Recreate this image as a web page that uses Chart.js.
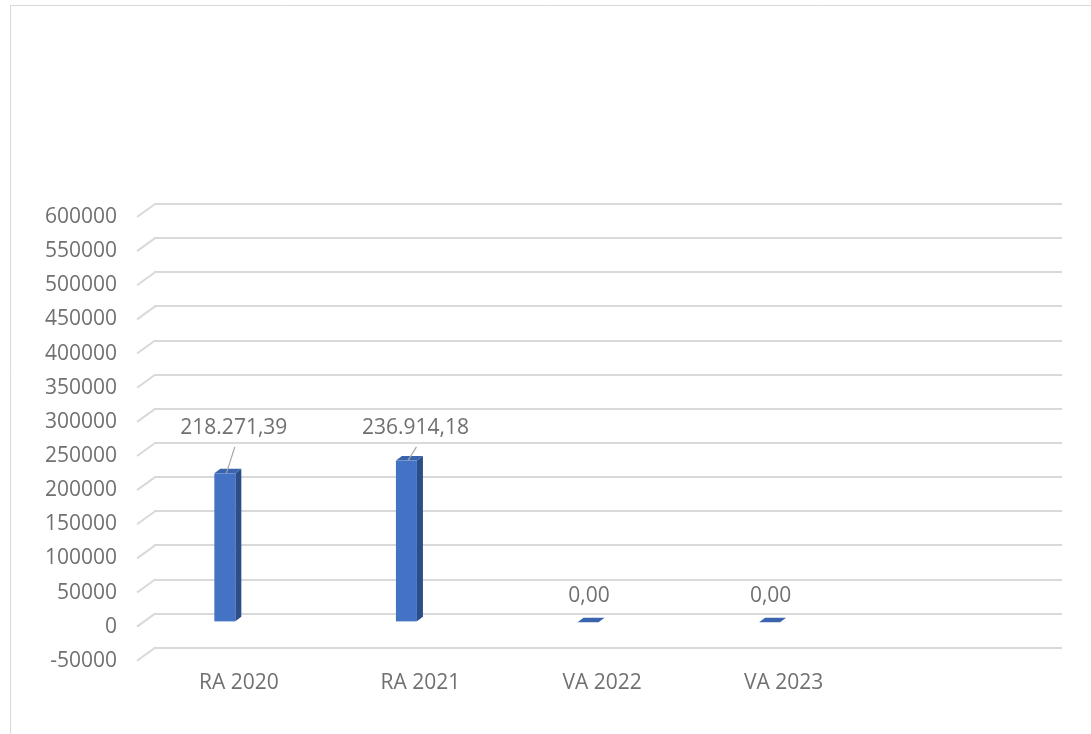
<!DOCTYPE html>
<html>
<head>
<meta charset="utf-8">
<script src="https://cdn.jsdelivr.net/npm/chart.js@4.4.1/dist/chart.umd.min.js"></script>
<style>
  html, body { margin: 0; padding: 0; background: #fff; }
  #wrap { position: relative; width: 1091px; height: 734px; }
</style>
</head>
<body>
<div id="wrap"><canvas id="chart"></canvas></div>
<script>
// values
const categories = ["RA 2020", "RA 2021", "VA 2022", "VA 2023", ""];
const values = [218271.39, 236914.18, 0, 0, null];
const yMin = -50000;
const yMax = 600000;
const yStep = 50000;

const FONT = '"Open Sans", sans-serif';
const TEXT = "#707070";
const GRID = "#d9d9d9";
const FRONT = "#4472c4";
const SIDE = "#2c4d87";
const TOP = "#3a64ae";

// fake 3D geometry (pixels)
const WALL_DX = 17, WALL_DY = 13;      // floor slant in front of the back wall
const FRONT_DX = -20, FRONT_DY = 8.7;  // bar front face vs back wall position
const DEPTH_X = 6, DEPTH_Y = 4.5;      // bar depth

function fmtValue(v) {
  return v.toLocaleString("de-DE", { minimumFractionDigits: 2, maximumFractionDigits: 2 });
}

function poly(ctx, pts, color) {
  ctx.beginPath();
  ctx.moveTo(pts[0][0], pts[0][1]);
  for (let i = 1; i < pts.length; i++) ctx.lineTo(pts[i][0], pts[i][1]);
  ctx.closePath();
  ctx.fillStyle = color;
  ctx.fill();
}

const frame = {
  id: "frame",
  beforeDraw(chart) {
    const ctx = chart.ctx;
    ctx.save();
    ctx.strokeStyle = GRID;
    ctx.lineWidth = 1;
    ctx.beginPath();
    ctx.moveTo(10.5, chart.height);
    ctx.lineTo(10.5, 5.5);
    ctx.lineTo(chart.width, 5.5);
    ctx.stroke();
    ctx.restore();
  }
};

// the short slanted piece of each gridline (floor edge)
const slants = {
  id: "slants",
  beforeDatasetsDraw(chart) {
    const { ctx, chartArea, scales: { y } } = chart;
    ctx.save();
    ctx.strokeStyle = GRID;
    ctx.lineWidth = 2;
    y.ticks.forEach((t) => {
      const py = y.getPixelForValue(t.value);
      ctx.beginPath();
      ctx.moveTo(chartArea.left - WALL_DX, py + WALL_DY);
      ctx.lineTo(chartArea.left + 1, py);
      ctx.stroke();
    });
    ctx.restore();
  }
};

const bars3d = {
  id: "bars3d",
  afterDatasetsDraw(chart) {
    const { ctx, scales: { y } } = chart;
    const meta = chart.getDatasetMeta(0);
    ctx.save();
    meta.data.forEach((el, i) => {
      const v = values[i];
      if (v === null || v === undefined) return;
      const p = el.getProps(["x", "y", "base", "width"], true);
      const x0 = p.x + FRONT_DX - p.width / 2;
      const x1 = x0 + p.width;
      const t = p.y + FRONT_DY;
      const b = p.base + FRONT_DY;

      if (b - t > 0.5) {
        poly(ctx, [[x1, t], [x1 + DEPTH_X, t - DEPTH_Y], [x1 + DEPTH_X, b - DEPTH_Y], [x1, b]], SIDE);
        ctx.fillStyle = FRONT;
        ctx.fillRect(x0, t, p.width, b - t);
      }
      poly(ctx, [[x0, t], [x1, t], [x1 + DEPTH_X, t - DEPTH_Y], [x0 + DEPTH_X, t - DEPTH_Y]], TOP);

      // data label
      ctx.font = "21px " + FONT;
      ctx.fillStyle = TEXT;
      ctx.textAlign = "center";
      ctx.textBaseline = "middle";
      let lx, ly;
      if (v > 0) {
        // labels pulled up below the 300000 line, with a leader line
        lx = p.x - 11;
        ly = y.getPixelForValue(300000) + 19;
        ctx.strokeStyle = "#a6a6a6";
        ctx.lineWidth = 1.2;
        ctx.beginPath();
        ctx.moveTo(lx + 1, ly + 19);
        ctx.lineTo(x0 + p.width / 2 + 1.5, t);
        ctx.stroke();
      } else {
        lx = p.x - 19;
        ly = t - 26;
      }
      ctx.fillText(fmtValue(v), lx, ly);
    });
    ctx.restore();
  }
};

new Chart(document.getElementById("chart"), {
  type: "bar",
  data: {
    labels: categories,
    datasets: [{
      data: values,
      backgroundColor: "rgba(0,0,0,0)",
      borderWidth: 0,
      barThickness: 21
    }]
  },
  options: {
    responsive: true,
    maintainAspectRatio: false,
    animation: false,
    // Chart.js counts tick padding twice when sizing an axis
    layout: { padding: { left: 8, right: 29, top: 204, bottom: 15 } },
    plugins: { legend: { display: false }, tooltip: { enabled: false } },
    scales: {
      x: {
        grid: { display: false, drawTicks: false },
        border: { display: false },
        ticks: {
          color: TEXT,
          font: { family: FONT, size: 21 },
          padding: 23,
          labelOffset: -6,
          maxRotation: 0,
          autoSkip: false
        }
      },
      y: {
        min: yMin,
        max: yMax,
        grid: { color: GRID, lineWidth: 2, drawTicks: false },
        border: { display: false },
        ticks: {
          stepSize: yStep,
          padding: 37,
          labelOffset: 13,
          color: TEXT,
          font: { family: FONT, size: 21 },
          callback: (v) => String(v)
        }
      }
    }
  },
  plugins: [frame, slants, bars3d]
});
</script>
</body>
</html>
